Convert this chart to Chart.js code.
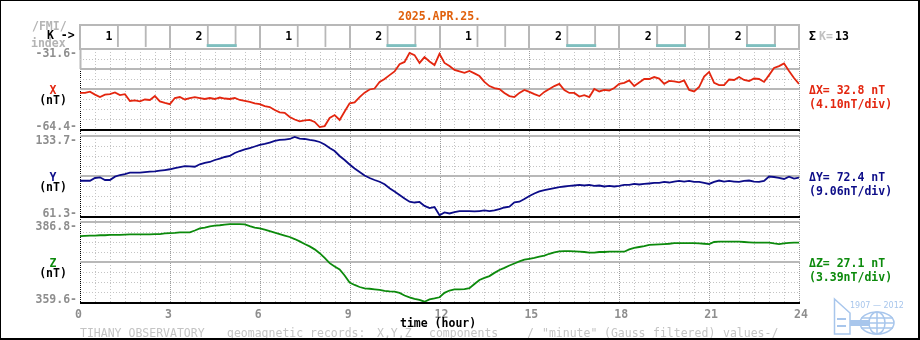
<!DOCTYPE html>
<html>
<head>
<meta charset="utf-8">
<title>Tihany geomagnetic records 2025.APR.25.</title>
<script src="https://cdn.jsdelivr.net/npm/chart.js@4.4.1/dist/chart.umd.min.js"></script>
<style>
  html, body { margin: 0; padding: 0; background: #fff; overflow: hidden; }
  canvas { display: block; }
</style>
</head>
<body>
<canvas id="magneto" width="920" height="340"></canvas>
<script>
// 10-minute samples from 00:00 to 24:00 UT, one hour per row
const STEP_H = 1 / 6;

const xValues = [
  -49.6, -49.6, -49.1, -50.3, -51.3, -50.3,
  -50.1, -49.4, -50.5, -50.1, -52.9, -52.7,
  -53.1, -52.3, -52.5, -50.9, -53.1, -53.7,
  -54.2, -51.7, -51.3, -52.3, -51.7, -51.3,
  -51.7, -52.1, -51.7, -52.1, -51.5, -51.9,
  -52.1, -51.7, -52.5, -52.9, -53.3, -53.9,
  -54.2, -55.0, -55.4, -56.6, -57.6, -57.8,
  -59.5, -60.5, -61.3, -60.9, -60.7, -61.5,
  -63.6, -63.2, -59.9, -58.7, -60.7, -57.2,
  -53.9, -53.5, -51.3, -49.5, -48.2, -47.8,
  -45.1, -43.9, -42.3, -40.8, -37.8, -36.9,
  -33.2, -34.1, -37.3, -34.9, -36.7, -38.2,
  -33.6, -37.3, -38.6, -40.2, -40.8, -41.4,
  -40.6, -41.6, -42.7, -45.1, -46.8, -47.6,
  -48.0, -49.6, -50.9, -51.3, -49.6, -48.4,
  -49.2, -50.1, -50.9, -49.2, -48.0, -46.8,
  -45.9, -48.4, -49.6, -49.6, -51.1, -50.5,
  -51.3, -48.0, -49.0, -48.4, -48.6, -47.6,
  -45.9, -45.5, -44.5, -46.8, -45.3, -43.9,
  -43.9, -43.1, -43.7, -45.9, -44.7, -44.9,
  -45.3, -44.5, -48.4, -49.0, -47.2, -42.9,
  -41.0, -45.5, -46.4, -46.4, -44.1, -44.3,
  -43.1, -44.3, -44.7, -43.7, -43.9, -45.1,
  -42.3, -39.4, -38.6, -37.5, -40.6, -43.5,
  -45.9
];

const yValues = [
  93.2, 93.2, 93.2, 95.7, 96.3, 93.9,
  93.9, 96.9, 98.4, 99.3, 100.5, 100.5,
  100.5, 101.1, 101.4, 101.6, 102.3, 102.9,
  103.6, 104.7, 105.6, 106.5, 106.3, 105.9,
  108.1, 109.3, 110.2, 112.0, 113.3, 114.7,
  115.6, 118.3, 120.1, 121.5, 122.8, 124.2,
  125.6, 126.5, 127.8, 129.2, 130.1, 130.5,
  131.0, 132.8, 131.4, 131.0, 130.1, 129.6,
  128.3, 126.0, 122.8, 120.1, 115.6, 112.0,
  107.9, 104.3, 101.1, 98.0, 95.7, 93.9,
  92.3, 90.0, 86.4, 83.5, 80.3, 77.1,
  74.2, 73.5, 74.0, 70.4, 68.5, 69.4,
  62.0, 64.6, 63.6, 64.9, 65.8, 65.8,
  65.8, 65.4, 65.8, 66.3, 65.8, 66.3,
  67.6, 69.0, 69.7, 73.7, 74.2, 76.7,
  79.4, 81.7, 83.5, 84.8, 85.7, 86.6,
  87.5, 88.0, 88.5, 88.9, 89.4, 88.9,
  89.4, 88.5, 88.9, 88.0, 88.5, 88.0,
  88.5, 89.4, 89.4, 90.3, 89.8, 90.3,
  90.7, 91.2, 91.2, 92.1, 91.6, 92.5,
  93.0, 92.5, 93.0, 92.1, 92.1, 91.2,
  90.3, 92.1, 93.4, 92.5, 93.0, 92.5,
  92.1, 93.0, 93.4, 92.5, 92.1, 93.0,
  97.0, 96.6, 95.7, 94.8, 96.9, 95.2,
  96.0
];

const zValues = [
  382.0, 382.1, 382.2, 382.2, 382.3, 382.3,
  382.4, 382.4, 382.4, 382.5, 382.6, 382.6,
  382.6, 382.6, 382.6, 382.7, 382.7, 382.9,
  383.0, 383.1, 383.3, 383.3, 383.3, 383.9,
  384.6, 384.9, 385.3, 385.6, 385.7, 385.9,
  386.1, 386.1, 386.1, 386.0, 385.4, 384.9,
  384.6, 384.2, 383.7, 383.2, 382.7, 382.2,
  381.7, 381.0, 380.2, 379.3, 378.5, 377.5,
  376.2, 374.6, 372.8, 371.7, 370.7, 368.6,
  366.2, 365.4, 364.7, 364.2, 364.1, 363.9,
  363.7, 363.4, 363.2, 363.1, 362.7, 361.8,
  361.2, 360.7, 360.3, 359.7, 360.5, 360.8,
  361.2, 362.7, 363.5, 363.9, 363.9, 364.0,
  364.3, 365.7, 367.1, 367.8, 368.4, 369.5,
  370.5, 371.2, 372.0, 372.7, 373.4, 374.0,
  374.3, 374.6, 375.0, 375.4, 376.0, 376.5,
  376.8, 376.9, 376.9, 376.8, 376.7, 376.6,
  376.4, 376.4, 376.6, 376.6, 376.7, 376.7,
  376.7, 376.7, 377.5, 378.0, 378.3, 378.6,
  379.0, 379.1, 379.2, 379.3, 379.4, 379.6,
  379.6, 379.6, 379.6, 379.6, 379.5, 379.4,
  379.3, 380.0, 380.1, 380.1, 380.1, 380.1,
  380.1, 380.0, 379.9, 379.8, 379.8, 379.8,
  379.8, 379.5, 379.3, 379.5, 379.7, 379.8,
  379.8
];

// K index, one value per 3-hour slot
const kSlots = [0, 3, 6, 9, 12, 15, 18, 21];
const kValues = [1, 2, 1, 2, 1, 2, 2, 2];
const kFrame = [9, 9, 9, 9, 9, 9, 9, 9];

const hourTicks = [0, 3, 6, 9, 12, 15, 18, 21, 24];

// scale limits [min, max] and side notes for each component
const xRange = [-64.4, -31.6];
const yRange = [61.3, 133.7];
const zRange = [359.6, 386.8];
const deltaText = ['32.8', '72.4', '27.1'];
const perDivText = ['4.10', '9.06', '3.39'];

const dateText = '2025.APR.25.';

// ---- look ----
const FONT = 'bold 11.5px "DejaVu Sans Mono", monospace';
const FONT_THIN = '11.5px "DejaVu Sans Mono", monospace';
const C = {
  red: '#e3260f', navy: '#0c0c88', green: '#0c8a0c', orange: '#e0600c',
  tick: '#8e8e8e', faint: '#b4b4b4', footer: '#c4c4c4', grid: '#b8b8b8',
  dot: '#c4c4c4', dot3: '#9c9c9c', teal: '#7fbfbf', emblem: '#a8c6ec'
};

const K_NUM_AT = 0.97;   // hours after slot start
const K_BOX_AT = 1.73;

const PANELS = [
  { id: 'yX', name: 'X', color: C.red, range: xRange, px: [49, 129], solid: [0, 2, 4], delta: deltaText[0], perDiv: perDivText[0] },
  { id: 'yY', name: 'Y', color: C.navy, range: yRange, px: [136, 216], solid: [0, 4], delta: deltaText[1], perDiv: perDivText[1] },
  { id: 'yZ', name: 'Z', color: C.green, range: zRange, px: [222, 302], solid: [0, 4], delta: deltaText[2], perDiv: perDivText[2] }
];
const K_PX = [24, 47];

const series = vals => vals.map((v, i) => ({ x: i * STEP_H, y: v }));
const kSeries = vals => vals.map((v, i) => ({ x: kSlots[i] + K_BOX_AT, y: v }));

function txt(ctx, s, x, yMid, color, align, font) {
  ctx.font = font || FONT;
  ctx.fillStyle = color;
  ctx.textAlign = align || 'left';
  ctx.textBaseline = 'alphabetic';
  ctx.fillText(s, x, yMid + 4);
}

function dashLine(ctx, x0, y0, x1, y1, color, dash) {
  ctx.save();
  ctx.strokeStyle = color;
  ctx.lineWidth = 1;
  ctx.setLineDash(dash);
  ctx.beginPath();
  ctx.moveTo(x0, y0);
  ctx.lineTo(x1, y1);
  ctx.stroke();
  ctx.restore();
}

function drawEmblem(ctx) {
  ctx.save();
  ctx.strokeStyle = C.emblem;
  ctx.fillStyle = C.emblem;
  ctx.lineWidth = 1.5;
  ctx.font = '8px "DejaVu Sans", sans-serif';
  ctx.textAlign = 'left';
  ctx.fillText('1907 — 2012', 850, 308);
  // tower
  ctx.beginPath();
  ctx.moveTo(834.5, 299); ctx.lineTo(850, 313); ctx.lineTo(850, 334); ctx.lineTo(834.5, 334);
  ctx.closePath(); ctx.stroke();
  ctx.fillRect(837, 318, 9, 2);
  ctx.fillRect(837, 325, 9, 2);
  // shaft into the globe
  ctx.fillRect(850, 320, 20, 6);
  // globe
  ctx.beginPath(); ctx.ellipse(877, 323, 17, 11, 0, 0, Math.PI * 2); ctx.stroke();
  ctx.beginPath(); ctx.ellipse(877, 323, 8, 11, 0, 0, Math.PI * 2); ctx.stroke();
  ctx.beginPath();
  ctx.moveTo(877, 312); ctx.lineTo(877, 334);
  ctx.moveTo(861, 318); ctx.lineTo(893, 318);
  ctx.moveTo(860, 323); ctx.lineTo(894, 323);
  ctx.moveTo(861, 328); ctx.lineTo(893, 328);
  ctx.stroke();
  ctx.restore();
}

const framePlugin = {
  id: 'frame',
  // stack the K row and the three component panels
  afterLayout(chart) {
    const place = (id, px) => {
      const s = chart.scales[id];
      s.top = px[0]; s.bottom = px[1]; s.height = px[1] - px[0];
      s.configure();
    };
    place('yK', K_PX);
    PANELS.forEach(p => place(p.id, p.px));
  },
  beforeDraw(chart) {
    const ctx = chart.ctx;
    ctx.save();
    ctx.fillStyle = '#fff';
    ctx.fillRect(0, 0, chart.width, chart.height);
    ctx.restore();
  },
  beforeDatasetsDraw(chart) {
    const ctx = chart.ctx;
    const xs = chart.scales.x;
    const left = Math.round(xs.getPixelForValue(0));
    const right = Math.round(xs.getPixelForValue(24));
    const top = PANELS[0].px[0];
    const bottom = PANELS[2].px[1] + 1;

    ctx.save();
    // half-hour verticals
    for (let h = 0; h <= 24; h += 0.5) {
      const x = Math.round(xs.getPixelForValue(h)) + 0.5;
      if (h === 0) {
        ctx.fillStyle = C.grid;
        ctx.fillRect(x - 1, top, 2, 20);
        dashLine(ctx, x, top + 20, x, bottom, '#000', [1, 1]);
      } else if (h % 3 === 0) {
        dashLine(ctx, x, top, x, bottom, C.dot3, [1, 1]);
      } else {
        dashLine(ctx, x, top, x, bottom, C.dot, [1, 2]);
      }
    }
    // horizontal divisions, 8 per panel
    PANELS.forEach(p => {
      const s = chart.scales[p.id];
      for (let i = 0; i <= 8; i++) {
        const y = Math.round(s.getPixelForValue(s.max - i * (s.max - s.min) / 8));
        if (i === 8) {
          ctx.fillStyle = '#000';
          ctx.fillRect(left, y, right - left + 1, 2);
        } else if (p.solid.includes(i)) {
          ctx.fillStyle = C.grid;
          ctx.fillRect(left, y - 1, right - left + 1, 2);
        } else {
          dashLine(ctx, left, y + 0.5, right + 1, y + 0.5, C.dot, [1, 2]);
        }
      }
    });
    // K row frame
    ctx.fillStyle = C.grid;
    ctx.fillRect(left, K_PX[0], right - left + 1, 2);
    kSlots.concat([24]).forEach(h => {
      const x = Math.round(xs.getPixelForValue(h));
      ctx.fillRect(x - 1, K_PX[0], 2, top - K_PX[0] + 1);
    });
    ctx.restore();
  },
  afterDatasetsDraw(chart) {
    const ctx = chart.ctx;
    const xs = chart.scales.x;
    ctx.save();

    txt(ctx, dateText, xs.getPixelForValue(12), 16, C.orange, 'center');

    // K row labels
    txt(ctx, '/FMI/', 32, 26, C.faint);
    txt(ctx, 'K ->', 47, 35, '#000');
    txt(ctx, 'index', 31, 43, C.faint);
    kValues.forEach((k, i) => txt(ctx, String(k), xs.getPixelForValue(kSlots[i] + K_NUM_AT), 36, '#000', 'center'));
    const kSum = kValues.reduce((a, b) => a + b, 0);
    txt(ctx, 'Σ', 809, 36, '#000');
    txt(ctx, 'K=', 819, 36, '#c0c0c0');
    txt(ctx, String(kSum), 835, 36, '#000');

    // panel labels
    PANELS.forEach(p => {
      const s = chart.scales[p.id];
      const yTop = s.getPixelForValue(s.max);
      const yBot = s.getPixelForValue(s.min);
      const mid = (yTop + yBot) / 2;
      txt(ctx, s.max.toFixed(1) + '-', 77, yTop + 3.5, C.tick, 'right');
      txt(ctx, s.min.toFixed(1) + '-', 77, yBot - 3, C.tick, 'right');
      txt(ctx, p.name, 53, mid + 1, p.color, 'center');
      txt(ctx, '(nT)', 53, mid + 11, '#000', 'center');
      txt(ctx, 'Δ' + p.name + '= ' + p.delta + ' nT', 809, mid + 1, p.color);
      txt(ctx, '(' + p.perDiv + 'nT/div)', 809, mid + 15, p.color);
    });

    // time axis
    hourTicks.forEach(h => txt(ctx, String(h), xs.getPixelForValue(h) - 5, 314, C.tick));
    txt(ctx, 'time (hour)', 400, 322.5, '#000');

    // footer
    [
      ['TIHANY OBSERVATORY', 80], ['geomagnetic records:', 227], ['X,Y,Z', 377],
      ['components', 429], ['/', 527], ['"minute"', 542], ['(Gauss', 604],
      ['filtered)', 653], ['values-/', 723]
    ].forEach(([s, x]) => txt(ctx, s, x, 332.5, C.footer, 'left', FONT_THIN));

    drawEmblem(ctx);

    // outer frame
    ctx.fillStyle = '#000';
    ctx.fillRect(0, 0, 920, 1);
    ctx.fillRect(0, 0, 1, 340);
    ctx.fillRect(918, 0, 2, 340);
    ctx.fillRect(0, 338, 920, 2);
    ctx.restore();
  }
};

const lineSet = (vals, axis, color) => ({
  type: 'line',
  data: series(vals),
  yAxisID: axis,
  borderColor: color,
  borderWidth: 1.8,
  pointRadius: 0,
  tension: 0,
  order: 0
});

new Chart(document.getElementById('magneto'), {
  type: 'line',
  data: {
    datasets: [
      lineSet(xValues, 'yX', C.red),
      lineSet(yValues, 'yY', C.navy),
      lineSet(zValues, 'yZ', C.green),
      {
        type: 'bar',
        data: kSeries(kValues),
        yAxisID: 'yK',
        backgroundColor: C.teal,
        borderWidth: 0,
        grouped: false,
        barPercentage: 1 / 3,
        categoryPercentage: 1,
        order: 0
      },
      {
        type: 'bar',
        data: kSeries(kFrame),
        yAxisID: 'yK',
        backgroundColor: 'rgba(0,0,0,0)',
        borderColor: C.grid,
        borderWidth: 2,
        borderSkipped: false,
        grouped: false,
        barPercentage: 1 / 3,
        categoryPercentage: 1,
        order: 1
      }
    ]
  },
  options: {
    responsive: false,
    devicePixelRatio: 1,
    animation: false,
    events: [],
    layout: { padding: { left: 80, right: 121, top: 24, bottom: 38 } },
    plugins: { legend: { display: false }, tooltip: { enabled: false } },
    scales: {
      x: { type: 'linear', min: 0, max: 24, offset: false, grid: { offset: false }, ticks: { stepSize: 3 }, display: false },
      yK: { type: 'linear', axis: 'y', position: 'left', min: 1, max: 9, beginAtZero: false, display: false },
      yX: { type: 'linear', axis: 'y', position: 'left', min: xRange[0], max: xRange[1], display: false },
      yY: { type: 'linear', axis: 'y', position: 'left', min: yRange[0], max: yRange[1], display: false },
      yZ: { type: 'linear', axis: 'y', position: 'left', min: zRange[0], max: zRange[1], display: false }
    }
  },
  plugins: [framePlugin]
});
</script>
</body>
</html>
